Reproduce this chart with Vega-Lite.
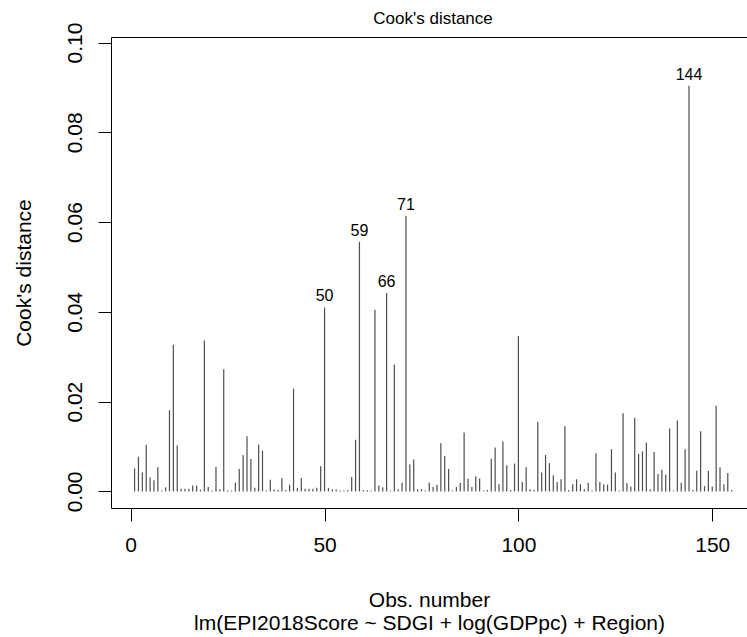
{
  "$schema": "https://vega.github.io/schema/vega-lite/v6.json",
  "width": 636,
  "height": 471,
  "autosize": {"type": "none"},
  "padding": {"left": 111, "top": 37, "right": 0, "bottom": 129},
  "background": "white",
  "config": {
    "font": "Liberation Sans",
    "view": {"stroke": "black", "strokeWidth": 1},
    "axis": {"grid": false, "domain": false, "tickColor": "black", "tickSize": 13, "tickWidth": 1, "labelColor": "black", "titleColor": "black", "labelFont": "Liberation Sans", "titleFont": "Liberation Sans", "titleFontWeight": "normal", "labelFontSize": 21, "titleFontSize": 21}
  },
  "title": {"text": "Cook's distance", "fontSize": 17, "fontWeight": "normal", "color": "black", "font": "Liberation Sans", "anchor": "middle", "dx": 4, "baseline": "alphabetic", "offset": -19},
  "data": {"values": [
    {"i":1,"d":0.0051},{"i":2,"d":0.0077},{"i":3,"d":0.0042},{"i":4,"d":0.0104},{"i":5,"d":0.0031},
    {"i":6,"d":0.0025},{"i":7,"d":0.0054},{"i":8,"d":0.0002},{"i":9,"d":0.0009},{"i":10,"d":0.0181},
    {"i":11,"d":0.0327},{"i":12,"d":0.0102},{"i":13,"d":0.0006},{"i":14,"d":0.0006},{"i":15,"d":0.0006},
    {"i":16,"d":0.0013},{"i":17,"d":0.0013},{"i":18,"d":0.0004},{"i":19,"d":0.0336},{"i":20,"d":0.0010},
    {"i":21,"d":0.0002},{"i":22,"d":0.0055},{"i":23,"d":0.0005},{"i":24,"d":0.0272},{"i":25,"d":0.0002},
    {"i":26,"d":0.0002},{"i":27,"d":0.0019},{"i":28,"d":0.0050},{"i":29,"d":0.0081},{"i":30,"d":0.0123},
    {"i":31,"d":0.0072},{"i":32,"d":0.0008},{"i":33,"d":0.0104},{"i":34,"d":0.0091},{"i":35,"d":0.0002},
    {"i":36,"d":0.0026},{"i":37,"d":0.0004},{"i":38,"d":0.0003},{"i":39,"d":0.0030},{"i":40,"d":0.0003},
    {"i":41,"d":0.0015},{"i":42,"d":0.0229},{"i":43,"d":0.0008},{"i":44,"d":0.0030},{"i":45,"d":0.0006},
    {"i":46,"d":0.0006},{"i":47,"d":0.0006},{"i":48,"d":0.0008},{"i":49,"d":0.0056},{"i":50,"d":0.0410,"lab":"50"},
    {"i":51,"d":0.0008},{"i":52,"d":0.0004},{"i":53,"d":0.0004},{"i":54,"d":0.0002},{"i":55,"d":0.0002},
    {"i":56,"d":0.0003},{"i":57,"d":0.0032},{"i":58,"d":0.0115},{"i":59,"d":0.0556,"lab":"59"},{"i":60,"d":0.0003},
    {"i":61,"d":0.0003},{"i":62,"d":0.0002},{"i":63,"d":0.0405},{"i":64,"d":0.0013},{"i":65,"d":0.0009},
    {"i":66,"d":0.0442,"lab":"66"},{"i":67,"d":0.0002},{"i":68,"d":0.0283},{"i":69,"d":0.0005},{"i":70,"d":0.0020},
    {"i":71,"d":0.0614,"lab":"71"},{"i":72,"d":0.0060},{"i":73,"d":0.0071},{"i":74,"d":0.0005},{"i":75,"d":0.0005},
    {"i":76,"d":0.0002},{"i":77,"d":0.0020},{"i":78,"d":0.0010},{"i":79,"d":0.0015},{"i":80,"d":0.0107},
    {"i":81,"d":0.0079},{"i":82,"d":0.0050},{"i":83,"d":0.0002},{"i":84,"d":0.0010},{"i":85,"d":0.0019},
    {"i":86,"d":0.0131},{"i":87,"d":0.0028},{"i":88,"d":0.0010},{"i":89,"d":0.0034},{"i":90,"d":0.0029},
    {"i":91,"d":0.0002},{"i":92,"d":0.0003},{"i":93,"d":0.0073},{"i":94,"d":0.0098},{"i":95,"d":0.0016},
    {"i":96,"d":0.0111},{"i":97,"d":0.0058},{"i":98,"d":0.0003},{"i":99,"d":0.0062},{"i":100,"d":0.0346},
    {"i":101,"d":0.0021},{"i":102,"d":0.0054},{"i":103,"d":0.0005},{"i":104,"d":0.0003},{"i":105,"d":0.0155},
    {"i":106,"d":0.0042},{"i":107,"d":0.0081},{"i":108,"d":0.0063},{"i":109,"d":0.0036},{"i":110,"d":0.0021},
    {"i":111,"d":0.0027},{"i":112,"d":0.0145},{"i":113,"d":0.0003},{"i":114,"d":0.0016},{"i":115,"d":0.0027},
    {"i":116,"d":0.0016},{"i":117,"d":0.0005},{"i":118,"d":0.0019},{"i":119,"d":0.0002},{"i":120,"d":0.0085},
    {"i":121,"d":0.0021},{"i":122,"d":0.0016},{"i":123,"d":0.0015},{"i":124,"d":0.0094},{"i":125,"d":0.0042},
    {"i":126,"d":0.0002},{"i":127,"d":0.0174},{"i":128,"d":0.0018},{"i":129,"d":0.0011},{"i":130,"d":0.0164},
    {"i":131,"d":0.0084},{"i":132,"d":0.0089},{"i":133,"d":0.0109},{"i":134,"d":0.0005},{"i":135,"d":0.0088},
    {"i":136,"d":0.0039},{"i":137,"d":0.0048},{"i":138,"d":0.0037},{"i":139,"d":0.0140},{"i":140,"d":0.0002},
    {"i":141,"d":0.0158},{"i":142,"d":0.0019},{"i":143,"d":0.0094},{"i":144,"d":0.0904,"lab":"144"},{"i":145,"d":0.0003},
    {"i":146,"d":0.0046},{"i":147,"d":0.0134},{"i":148,"d":0.0012},{"i":149,"d":0.0046},{"i":150,"d":0.0011},
    {"i":151,"d":0.0191},{"i":152,"d":0.0054},{"i":153,"d":0.0016},{"i":154,"d":0.0041},{"i":155,"d":0.0003}
  ]},
  "layer": [
    {
      "mark": {"type": "rule", "color": "#4d4d4d", "strokeWidth": 1.2},
      "encoding": {
        "x": {"field": "i", "type": "quantitative",
              "scale": {"domain": [-5.08, 158.96], "nice": false, "zero": false},
              "axis": {"values": [0, 50, 100, 150], "labelPadding": 13, "labelBaseline": "top",
                       "title": ["Obs. number", "lm(EPI2018Score ~ SDGI + log(GDPpc) + Region)"],
                       "titleLineHeight": 23, "titlePadding": 34, "titleBaseline": "top"}},
        "y": {"field": "d", "type": "quantitative",
              "scale": {"domain": [-0.0037, 0.10125], "nice": false, "zero": false},
              "axis": {"values": [0, 0.02, 0.04, 0.06, 0.08, 0.1], "format": ".2f",
                       "labelAngle": -90, "labelAlign": "center", "labelBaseline": "alphabetic", "labelPadding": 17,
                       "title": "Cook's distance", "titlePadding": 30}},
        "y2": {"datum": 0}
      }
    },
    {
      "transform": [{"filter": "isValid(datum.lab)"}],
      "mark": {"type": "text", "fontSize": 16, "font": "Liberation Sans", "color": "black", "baseline": "alphabetic", "dy": -6},
      "encoding": {
        "x": {"field": "i", "type": "quantitative"},
        "y": {"field": "d", "type": "quantitative"},
        "text": {"field": "lab"}
      }
    }
  ]
}
